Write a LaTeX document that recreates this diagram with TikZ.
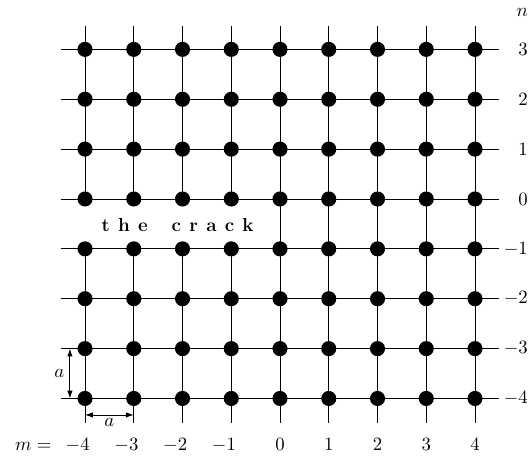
\documentclass[tikz,border=0pt]{standalone}
\usetikzlibrary{arrows.meta,positioning}
\tikzset{
  site/.style={circle,fill=black,inner sep=0pt,minimum size=3.1mm},
  gridline/.style={line width=0.5pt,draw=black},
  dimarrow/.style={{Latex[length=1.6mm,width=1.1mm]}-{Latex[length=1.6mm,width=1.1mm]},
    line width=0.5pt},
  ticklabel/.style={font=\fontsize{10.6}{12}\selectfont,inner sep=0pt},
  cracklabel/.style={font=\fontsize{11}{12}\selectfont\bfseries,inner sep=0pt},
}
\newcommand{\lsp}{\hspace{4.8pt}}

\begin{document}
\begin{tikzpicture}[x=1cm,y=1.023cm]
  \useasboundingbox (-5.744cm,-5.272cm) rectangle (5.128cm,4.082cm);
  % lattice sites
  \foreach \m in {-4,...,4}
    \foreach \n in {-4,...,3}
      \node[site] (s\m\n) at (\m,\n) {};
  % free ends of the grid lines
  \foreach \n in {-4,...,3} {
    \coordinate (w\n) at (-4.5,\n);
    \coordinate (e\n) at (4.5,\n);
    \draw[gridline] (w\n) -- (e\n);
  }
  \foreach \m in {-4,...,4} {
    \coordinate (t\m) at (\m,3.47);
    \coordinate (b\m) at (\m,-4.49);
  }
  % bonds cut by the crack
  \foreach \m in {-4,...,-1} {
    \draw[gridline] (t\m) -- (s\m0.center);
    \draw[gridline] (s\m-1.center) -- (b\m);
  }
  \foreach \m in {0,...,4}
    \draw[gridline] (t\m) -- (b\m);
  \node[cracklabel] (crack) at (-2.1,-0.52)
    {t\lsp h\lsp e\hspace{14pt}c\lsp r\lsp a\lsp c\lsp k};
  % row and column numbers
  \foreach \n in {-4,...,3}
    \node[ticklabel,anchor=east] (nl\n) at (5.09,\n) {$\n$};
  \node[ticklabel,anchor=east] (nname) at (5.09,3.75) {$n$};
  \foreach \m in {-4,...,4} {
    \pgfmathtruncatemacro\am{abs(\m)}
    \node[ticklabel,anchor=base] (ml\m) at (\m,-5.05)
      {\ifnum\m<0 \llap{$-$}\fi$\am$};
  }
  \node[ticklabel,anchor=base east] (mname) at (-4.68,-5.05) {$m=$};
  % lattice spacing
  \coordinate (va) at (-4.31,-3);
  \coordinate (vb) at (-4.31,-4);
  \draw[dimarrow] (va) -- (vb) node[ticklabel,midway,left=3pt] (av) {$a$};
  \coordinate (ha) at (-4,-4.33);
  \coordinate (hb) at (-3,-4.33);
  \draw[dimarrow] (ha) -- (hb) node[ticklabel,midway,below=2pt] (ah) {$a$};
\end{tikzpicture}
\end{document}
